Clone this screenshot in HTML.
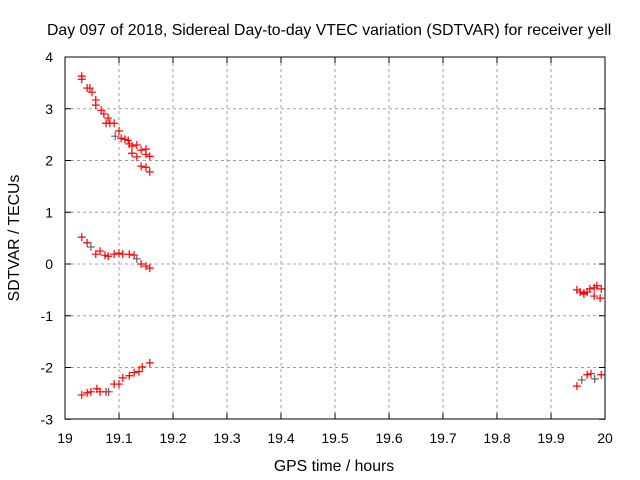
<!DOCTYPE html>
<html><head><meta charset="utf-8"><style>
body{margin:0;background:#fff}
svg{display:block;font-family:"Liberation Sans",sans-serif}
</style></head><body>
<svg id="c" width="640" height="480">
<rect width="640" height="480" fill="#fff"/>
<text x="47" y="35" font-size="15.8">Day 097 of 2018, Sidereal Day-to-day VTEC variation (SDTVAR) for receiver yell</text>
<text x="334" y="471" font-size="15.8" text-anchor="middle">GPS time / hours</text>
<text transform="translate(19,238) rotate(-90)" font-size="15.8" text-anchor="middle">SDTVAR / TECUs</text>
<g id="grid"></g><g id="marks"></g>
<rect x="65" y="57" width="540" height="362" fill="none" stroke="#000"/>
</svg>
<script>
const xTicks=[19,19.1,19.2,19.3,19.4,19.5,19.6,19.7,19.8,19.9,20];
const xTickLabels=["19","19.1","19.2","19.3","19.4","19.5","19.6","19.7","19.8","19.9","20"];
const yTicks=[-3,-2,-1,0,1,2,3,4];
const timesA=[19.031,19.031,19.041,19.046,19.050,19.057,19.057,19.067,19.072,19.080,19.076,19.083,19.091,19.100,19.093,19.104,19.111,19.117,19.119,19.124,19.133,19.124,19.133,19.141,19.150,19.150,19.157,19.141,19.150,19.157];
const valsA=[3.63,3.57,3.40,3.40,3.32,3.17,3.07,2.97,2.90,2.82,2.72,2.72,2.72,2.57,2.47,2.43,2.41,2.39,2.32,2.28,2.30,2.14,2.07,2.20,2.22,2.12,2.08,1.89,1.87,1.78];
const timesB=[19.031,19.041,19.048,19.057,19.065,19.074,19.080,19.091,19.100,19.107,19.119,19.128,19.133,19.141,19.150,19.157];
const valsB=[0.52,0.41,0.33,0.19,0.25,0.17,0.15,0.19,0.21,0.19,0.19,0.17,0.10,0,-0.04,-0.08];
const timesC=[19.031,19.041,19.048,19.059,19.065,19.076,19.081,19.091,19.100,19.107,19.119,19.128,19.137,19.143,19.157];
const valsC=[-2.53,-2.49,-2.47,-2.41,-2.47,-2.47,-2.47,-2.32,-2.32,-2.20,-2.16,-2.10,-2.08,-1.99,-1.91];
const timesD=[19.948,19.954,19.961,19.967,19.961,19.972,19.980,19.985,19.993,19.980,19.991,19.948,19.957,19.967,19.974,19.981,19.993];
const valsD=[-0.50,-0.54,-0.56,-0.54,-0.58,-0.48,-0.46,-0.42,-0.48,-0.62,-0.66,-2.36,-2.24,-2.14,-2.12,-2.22,-2.14];
const greyIdx=[["A",14],["B",2],["B",12],["C",6],["D",12],["D",15]];
const X=v=>65+(v-19)*540, Y=v=>264-v*51.75;
const NS="http://www.w3.org/2000/svg";
const g=document.getElementById('grid'), m=document.getElementById('marks');
function mk(p,t,a){const e=document.createElementNS(NS,t);for(const k in a)e.setAttribute(k,a[k]);p.appendChild(e);return e;}
xTicks.forEach((t,i)=>{const x=X(t);
 if(i>0&&i<xTicks.length-1){const l=mk(g,'line',{x1:x,x2:x,y1:57,y2:419,stroke:'#a0a0a0','stroke-dasharray':'3,3'});}
 mk(g,'line',{x1:x,x2:x,y1:419,y2:413,stroke:'#000'});mk(g,'line',{x1:x,x2:x,y1:57,y2:63,stroke:'#000'});
 const tx=mk(g,'text',{x:x,y:443,'font-size':14,'text-anchor':'middle'});tx.textContent=xTickLabels[i];
 });
yTicks.forEach((t,i)=>{const y=Y(t);
 if(i>0&&i<yTicks.length-1){const l=mk(g,'line',{x1:65,x2:605,y1:y,y2:y,stroke:'#a0a0a0','stroke-dasharray':'3,3'});}
 mk(g,'line',{x1:65,x2:71,y1:y,y2:y,stroke:'#000'});mk(g,'line',{x1:605,x2:599,y1:y,y2:y,stroke:'#000'});
 const tx=mk(g,'text',{x:53,y:y+5,'font-size':14,'text-anchor':'end'});tx.textContent=String(t);
 });
const sets={A:[timesA,valsA],B:[timesB,valsB],C:[timesC,valsC],D:[timesD,valsD]};
function plus(x,y,c){const p=mk(m,'path',{d:`M${x-4},${y}h8M${x},${y-4}v8`,stroke:c,'stroke-width':1.2});
 }
for(const k in sets){const [t,v]=sets[k];t.forEach((tt,i)=>{
 const grey=greyIdx.some(q=>q[0]===k&&q[1]===i);plus(X(tt),Y(v[i]),grey?'#606060':'#ff0000');});}
</script>
</body></html>
